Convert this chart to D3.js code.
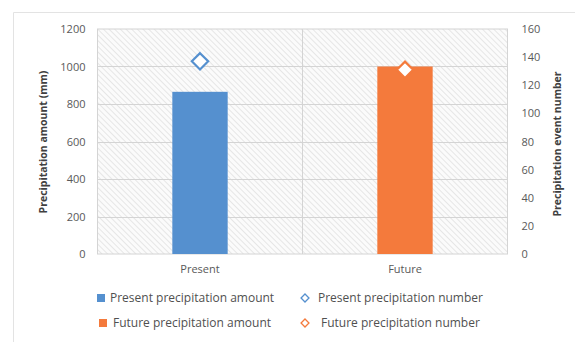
<!DOCTYPE html>
<html>
<head>
<meta charset="utf-8">
<script src="https://cdn.jsdelivr.net/npm/d3@7"></script>
<style>
  html, body { margin: 0; padding: 0; background: #fff; }
  svg { display: block; font-family: "Open Sans", "Noto Sans", sans-serif; }
</style>
</head>
<body>
<svg id="chart" width="575" height="342"></svg>
<script>
// Annual precipitation amount (bars, left axis) and event count (diamonds, right axis)
const categories = ["Present", "Future"];
const amountValues = [865, 1000];          // mm
const eventValues = [137, 131];            // number of events
const leftTicks = [0, 200, 400, 600, 800, 1000, 1200];
const rightTicks = [0, 20, 40, 60, 80, 100, 120, 140, 160];
const seriesColors = ["#5590cf", "#f47a3c"];
const legendLabels = [
  "Present precipitation amount",
  "Present precipitation number",
  "Future precipitation amount",
  "Future precipitation number"
];

const svg = d3.select("#chart");
const plot = { left: 97.5, right: 507.5, top: 29, bottom: 254 };

// Outer chart frame (top and left edges fall inside the view)
svg.append("line").attr("x1", 13.5).attr("x2", 575).attr("y1", 12.5).attr("y2", 12.5)
  .attr("stroke", "#e3e3e3");
svg.append("line").attr("x1", 13.5).attr("x2", 13.5).attr("y1", 12.5).attr("y2", 342)
  .attr("stroke", "#e3e3e3");

// Diagonal hatch fill for the plot area
const defs = svg.append("defs");
const pat = defs.append("pattern").attr("id", "hatch")
  .attr("patternUnits", "userSpaceOnUse").attr("width", 4).attr("height", 4)
  .attr("patternTransform", "rotate(-45)");
pat.append("rect").attr("width", 4).attr("height", 4).attr("fill", "#fbfbfb");
pat.append("line").attr("x1", 0).attr("y1", 0).attr("x2", 0).attr("y2", 4)
  .attr("stroke", "#d9d9d9").attr("stroke-width", 1.2);

const x = d3.scaleBand().domain(categories).range([plot.left, plot.right])
  .paddingInner(0.73).paddingOuter(0.365);
const yL = d3.scaleLinear().domain([0, 1200]).range([plot.bottom, plot.top]);
const yR = d3.scaleLinear().domain([0, 160]).range([plot.bottom, plot.top]);

svg.append("rect")
  .attr("x", plot.left).attr("y", plot.top)
  .attr("width", plot.right - plot.left).attr("height", plot.bottom - plot.top)
  .attr("fill", "url(#hatch)").attr("stroke", "#d4d4d4");

// Gridlines
svg.append("g").selectAll("line").data(leftTicks.slice(1, -1)).join("line")
  .attr("x1", plot.left).attr("x2", plot.right)
  .attr("y1", d => Math.round(yL(d)) + 0.5).attr("y2", d => Math.round(yL(d)) + 0.5)
  .attr("stroke", "#d4d4d4");
const midX = (plot.left + plot.right) / 2;
svg.append("line").attr("x1", midX).attr("x2", midX)
  .attr("y1", plot.top).attr("y2", plot.bottom).attr("stroke", "#d4d4d4");

// Axes
const fmt = d3.format("d");
const leftAxis = svg.append("g").attr("transform", `translate(${plot.left},0)`)
  .call(d3.axisLeft(yL).tickValues(leftTicks).tickFormat(fmt).tickSize(0).tickPadding(12));
const rightAxis = svg.append("g").attr("transform", `translate(${plot.right},0)`)
  .call(d3.axisRight(yR).tickValues(rightTicks).tickFormat(fmt).tickSize(0).tickPadding(14));
const bottomAxis = svg.append("g").attr("transform", `translate(0,${plot.bottom})`)
  .call(d3.axisBottom(x).tickSize(0).tickPadding(11));
[leftAxis, rightAxis, bottomAxis].forEach(g => {
  g.select(".domain").remove();
  g.selectAll("text").attr("fill", "#595959").style("font-size", "11px")
    .style("font-family", "'Open Sans', sans-serif");
});

// Bars
svg.append("g").selectAll("rect").data(categories).join("rect")
  .attr("x", d => x(d)).attr("width", x.bandwidth())
  .attr("y", (d, i) => yL(amountValues[i]))
  .attr("height", (d, i) => plot.bottom - yL(amountValues[i]))
  .attr("fill", (d, i) => seriesColors[i]);

// Diamond markers for event counts
const diamond = d3.symbol().type(d3.symbolDiamond2).size(170);
svg.append("g").selectAll("path").data(categories).join("path")
  .attr("d", diamond)
  .attr("transform", (d, i) => `translate(${x(d) + x.bandwidth() / 2},${yR(eventValues[i])})`)
  .attr("fill", "#fff").attr("stroke", (d, i) => seriesColors[i]).attr("stroke-width", 2.2);

// Axis titles
svg.append("text")
  .attr("transform", "translate(47,142) rotate(-90)")
  .attr("text-anchor", "middle").attr("fill", "#404040")
  .style("font-size", "10.5px").style("font-weight", "bold")
  .text("Precipitation amount (mm)");
svg.append("text")
  .attr("transform", "translate(561,144) rotate(-90)")
  .attr("text-anchor", "middle").attr("fill", "#404040")
  .style("font-size", "10.5px").style("font-weight", "bold")
  .text("Precipitation event number");

// Legend
const legendItems = [
  { label: legendLabels[0], color: seriesColors[0], shape: "square", x: 97, tx: 110, y: 298 },
  { label: legendLabels[1], color: seriesColors[0], shape: "diamond", x: 305, tx: 318, y: 298 },
  { label: legendLabels[2], color: seriesColors[1], shape: "square", x: 99, tx: 113, y: 323 },
  { label: legendLabels[3], color: seriesColors[1], shape: "diamond", x: 305, tx: 321, y: 323 }
];
const lg = svg.append("g").selectAll("g").data(legendItems).join("g");
lg.filter(d => d.shape === "square").append("rect")
  .attr("x", d => d.x).attr("y", d => d.y - 4).attr("width", 8).attr("height", 8)
  .attr("fill", d => d.color);
lg.filter(d => d.shape === "diamond").append("path")
  .attr("d", d3.symbol().type(d3.symbolDiamond2).size(40))
  .attr("transform", d => `translate(${d.x},${d.y})`)
  .attr("fill", "#fff").attr("stroke", d => d.color).attr("stroke-width", 1.3);
lg.append("text")
  .attr("x", d => d.tx).attr("y", d => d.y).attr("dy", "0.35em")
  .attr("fill", "#505050").style("font-size", "12px")
  .text(d => d.label);
</script>
</body>
</html>
